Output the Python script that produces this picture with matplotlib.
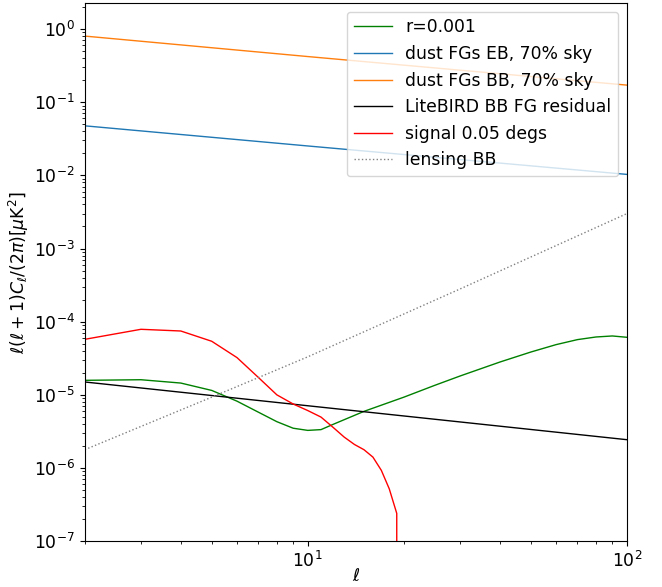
import numpy as np
import matplotlib
matplotlib.use("Agg")
import matplotlib.pyplot as plt

plt.rcParams['font.size'] = 12.4

# r=0.001 tensor BB
ell_r = [2, 3, 4, 5, 6, 7, 8, 9, 10, 11, 12, 15, 20, 25, 30, 40, 50, 60, 70, 80, 90, 100]
cl_r = [1.58e-5, 1.61e-5, 1.45e-5, 1.15e-5, 8.2e-6, 5.8e-6, 4.3e-6, 3.5e-6, 3.27e-6,
        3.35e-6, 3.95e-6, 5.95e-6, 9.3e-6, 1.35e-5, 1.81e-5, 2.81e-5, 3.85e-5,
        4.86e-5, 5.69e-5, 6.18e-5, 6.38e-5, 6.12e-5]

# dust foregrounds (70% sky)
ell_fg = [2, 10, 100]
cl_eb = [0.0475, 0.0252, 0.0103]
cl_bb = [0.80, 0.42, 0.171]

# LiteBIRD BB FG residual
cl_res = [1.5e-5, 7.1e-6, 2.44e-6]

# signal 0.05 degs
ell_sig = list(range(1, 21))
cl_sig = [0, 5.74e-5, 7.87e-5, 7.46e-5, 5.4e-5, 3.23e-5, 1.73e-5, 1.0e-5, 7.5e-6, 6.1e-6,
          4.97e-6, 3.6e-6, 2.65e-6, 2.1e-6, 1.78e-6, 1.41e-6, 9.3e-7, 5.2e-7, 2.4e-7, 0]

# lensing BB
ell_lens = [2, 5, 10, 30, 100]
cl_lens = [1.78e-6, 9.3e-6, 3.31e-5, 2.8e-4, 3.0e-3]

fig, ax = plt.subplots(figsize=(6.62, 5.87), dpi=100)
fig.subplots_adjust(left=0.128, right=0.947, top=0.995, bottom=0.078)

ax.loglog(ell_r, cl_r, color='green', lw=1, label='r=0.001')
ax.loglog(ell_fg, cl_eb, color='tab:blue', lw=1, label='dust FGs EB, 70% sky')
ax.loglog(ell_fg, cl_bb, color='tab:orange', lw=1, label='dust FGs BB, 70% sky')
ax.loglog(ell_fg, cl_res, color='k', lw=1, label='LiteBIRD BB FG residual')
ax.loglog(ell_sig, cl_sig, color='r', lw=1, label='signal 0.05 degs')
ax.loglog(ell_lens, cl_lens, color='gray', ls=':', lw=1, label='lensing BB')

ax.set_xlim(2, 100)
ax.set_ylim(1e-7, 2.27)
ax.set_xlabel(r'$\ell$', labelpad=-3)
ax.set_ylabel(r'$\ell(\ell+1)C_\ell/(2\pi) [\mu \mathrm{K}^2]$', labelpad=2)
ax.legend(loc='upper right', handlelength=2.2)

fig.savefig('out.png')
